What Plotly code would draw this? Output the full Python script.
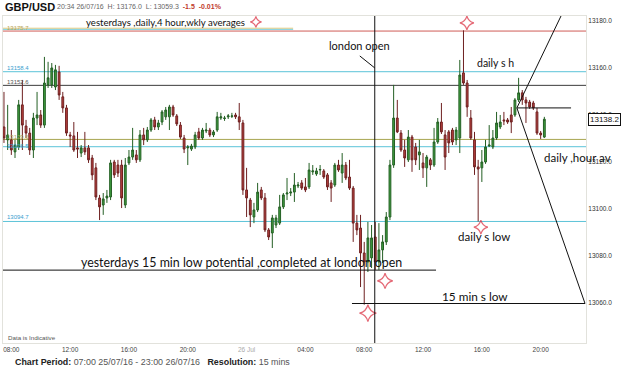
import plotly.graph_objects as go
import pandas as pd

# ---------------- data (15-min GBP/USD candles, price in pips*10) ----------------
start_time = "2016-07-25 07:30"
opens = [13134.9, 13129.4, 13129.4, 13124.3, 13126.4, 13144.3, 13135.3, 13132.3, 13125.1, 13138.7,
         13140.0, 13135.7, 13152.8, 13152.8, 13151.9, 13158.3, 13147.7, 13143.0, 13131.5, 13131.1,
         13126.0, 13123.8, 13126.0, 13126.0, 13121.7, 13117.5, 13104.7, 13101.7, 13104.7, 13105.1,
         13120.0, 13118.7, 13118.7, 13101.7, 13119.6, 13122.1, 13123.0, 13120.9, 13131.5, 13129.4,
         13133.6, 13137.9, 13134.9, 13137.0, 13139.2, 13139.2, 13143.4, 13139.6, 13135.7, 13130.2,
         13126.0, 13125.5, 13126.4, 13132.8, 13130.2, 13133.2, 13133.6, 13131.5, 13133.6, 13138.7,
         13138.5, 13139.2, 13139.4, 13140.0, 13139.2, 13136.6, 13108.1, 13103.8, 13096.6, 13099.6,
         13108.1, 13104.7, 13091.1, 13089.8, 13093.2, 13094.0, 13100.9, 13106.4, 13106.8, 13107.2,
         13109.8, 13111.1, 13109.4, 13109.4, 13115.8, 13114.9, 13116.6, 13116.2, 13114.5, 13111.1,
         13110.2, 13118.7, 13115.3, 13118.7, 13113.6, 13108.9, 13094.0, 13091.9, 13081.3, 13077.5,
         13079.2, 13088.1, 13077.5, 13082.6, 13086.0, 13096.6, 13118.7, 13138.7, 13132.3, 13125.1,
         13120.9, 13130.6, 13126.4, 13123.0, 13119.6, 13117.5, 13120.9, 13118.7, 13128.5, 13137.0,
         13131.5, 13132.8, 13133.6, 13129.4, 13130.2, 13157.9, 13153.6, 13138.7, 13129.4, 13117.9,
         13117.5, 13120.0, 13126.8, 13126.4, 13130.2, 13134.9, 13137.9, 13137.9, 13140.0, 13140.0,
         13146.4, 13149.4, 13146.4, 13145.5, 13145.1, 13141.3, 13132.3, 13130.6]
highs = [13149.8, 13144.3, 13133.6, 13129.4, 13146.4, 13154.9, 13137.9, 13134.5, 13140.9, 13149.8,
         13142.1, 13164.7, 13162.6, 13162.1, 13161.3, 13160.9, 13149.8, 13144.3, 13132.8, 13137.0,
         13132.8, 13127.2, 13132.8, 13127.2, 13123.0, 13119.6, 13106.0, 13106.8, 13108.1, 13120.9,
         13120.9, 13120.9, 13120.9, 13121.7, 13125.1, 13134.5, 13125.1, 13133.6, 13134.5, 13134.9,
         13138.7, 13139.2, 13137.9, 13142.1, 13143.4, 13144.3, 13144.3, 13140.4, 13137.0, 13131.5,
         13127.2, 13127.7, 13132.8, 13134.5, 13134.5, 13136.6, 13134.5, 13133.6, 13141.3, 13140.9,
         13139.6, 13140.4, 13140.9, 13140.9, 13145.1, 13137.9, 13117.5, 13104.7, 13102.6, 13111.1,
         13109.4, 13106.8, 13091.9, 13097.5, 13097.5, 13106.0, 13106.8, 13113.2, 13108.9, 13115.3,
         13111.5, 13112.3, 13113.2, 13119.6, 13118.7, 13117.5, 13118.7, 13117.0, 13115.3, 13112.3,
         13119.6, 13120.9, 13123.8, 13120.0, 13120.9, 13109.8, 13097.5, 13097.5, 13086.0, 13094.5,
         13093.2, 13094.5, 13094.0, 13088.9, 13098.7, 13120.9, 13152.8, 13146.4, 13133.6, 13129.4,
         13133.6, 13131.5, 13128.1, 13129.4, 13123.8, 13123.0, 13121.7, 13134.5, 13138.7, 13145.1,
         13133.6, 13133.6, 13134.5, 13134.9, 13163.4, 13176.0, 13154.9, 13142.1, 13132.8, 13120.9,
         13125.1, 13129.4, 13135.7, 13133.6, 13141.3, 13140.0, 13141.3, 13138.7, 13143.4, 13147.2,
         13155.8, 13150.6, 13147.7, 13146.4, 13146.0, 13143.0, 13133.2, 13139.2]
lows = [13128.1, 13125.1, 13123.0, 13121.7, 13125.1, 13125.1, 13130.2, 13123.0, 13121.7, 13135.7,
        13134.5, 13134.5, 13151.5, 13151.5, 13150.6, 13146.4, 13140.9, 13131.1, 13126.4, 13124.3,
        13121.7, 13122.1, 13123.0, 13119.6, 13112.3, 13103.8, 13095.3, 13097.5, 13102.6, 13103.8,
        13113.2, 13113.6, 13100.4, 13100.4, 13118.7, 13120.9, 13119.6, 13120.0, 13127.2, 13128.5,
        13132.8, 13133.6, 13133.6, 13135.7, 13137.9, 13133.6, 13139.2, 13135.3, 13129.8, 13123.8,
        13118.7, 13124.7, 13125.5, 13129.4, 13129.4, 13132.3, 13130.6, 13130.6, 13132.8, 13137.9,
        13137.5, 13138.3, 13138.7, 13138.3, 13133.6, 13106.0, 13096.6, 13092.3, 13094.0, 13098.7,
        13103.8, 13090.2, 13086.8, 13083.4, 13091.9, 13093.2, 13100.0, 13103.8, 13105.5, 13103.0,
        13108.9, 13108.1, 13107.2, 13108.5, 13114.5, 13114.1, 13114.5, 13112.8, 13108.1, 13103.0,
        13109.4, 13115.8, 13111.1, 13112.3, 13108.1, 13086.0, 13088.9, 13066.8, 13059.3, 13073.2,
        13074.9, 13074.1, 13074.1, 13077.0, 13084.7, 13095.3, 13117.5, 13132.3, 13124.3, 13117.9,
        13120.0, 13115.8, 13118.7, 13116.6, 13113.2, 13109.4, 13116.6, 13117.9, 13127.7, 13131.9,
        13116.6, 13123.8, 13127.2, 13127.2, 13123.8, 13152.8, 13139.2, 13129.4, 13114.5, 13094.7,
        13111.5, 13119.2, 13126.4, 13125.5, 13129.4, 13134.0, 13135.7, 13136.2, 13132.3, 13139.2,
        13145.5, 13144.3, 13136.6, 13142.6, 13142.1, 13131.5, 13129.8, 13130.2]
closes = [13130.2, 13131.5, 13125.1, 13127.2, 13144.3, 13135.7, 13132.3, 13125.1, 13138.7, 13140.0,
          13135.7, 13153.6, 13155.8, 13160.0, 13159.2, 13148.5, 13143.0, 13132.3, 13131.1, 13125.1,
          13125.5, 13126.0, 13124.3, 13120.9, 13114.5, 13105.1, 13100.9, 13104.3, 13105.5, 13119.6,
          13114.5, 13115.3, 13104.7, 13118.7, 13122.1, 13125.1, 13120.9, 13131.5, 13129.4, 13133.6,
          13137.9, 13134.9, 13136.6, 13141.3, 13142.1, 13143.4, 13140.0, 13136.2, 13130.6, 13125.5,
          13126.4, 13126.8, 13131.5, 13130.2, 13133.6, 13133.6, 13131.5, 13132.8, 13139.2, 13139.2,
          13138.7, 13139.6, 13139.6, 13139.2, 13137.0, 13108.1, 13104.7, 13097.5, 13099.6, 13107.2,
          13104.7, 13091.1, 13088.1, 13096.2, 13096.2, 13100.9, 13106.0, 13106.8, 13107.2, 13110.2,
          13110.2, 13108.9, 13108.1, 13116.6, 13116.2, 13116.2, 13116.8, 13113.6, 13109.4, 13108.9,
          13118.7, 13116.6, 13118.7, 13113.2, 13108.9, 13094.0, 13091.1, 13081.3, 13077.5, 13087.7,
          13087.7, 13077.5, 13082.6, 13086.0, 13096.6, 13118.7, 13138.7, 13132.8, 13125.1, 13121.7,
          13130.6, 13120.9, 13120.9, 13124.3, 13117.5, 13122.1, 13118.7, 13128.5, 13137.0, 13132.8,
          13122.1, 13128.1, 13128.5, 13133.6, 13157.0, 13153.6, 13143.4, 13130.2, 13117.9, 13117.0,
          13120.0, 13126.4, 13127.2, 13130.2, 13136.6, 13137.0, 13137.5, 13137.0, 13137.0, 13146.4,
          13149.4, 13146.4, 13145.1, 13143.4, 13143.0, 13132.3, 13131.5, 13138.2]

# horizontal average / level lines (full width)
level_values = [13175.7, 13158.4, 13152.6, 13129.6, 13126.5, 13094.7]
level_colors = ["#cf5b57", "#5bc3d8", "#3a3a3a", "#a8a550", "#5bc3d8", "#5bc3d8"]
level_label_colors = ["#b9a55a", "#3aa0cf", "#555555", "#a8a550", "#3aa0cf", "#3aa0cf"]

# short "legend" lines under the averages caption
short_level_values = [13176.9, 13176.4]
short_level_colors = ["#e0c87a", "#7fd0e0"]
short_level_end = "2016-07-26 03:10"

# y axis / x axis ticks
y_ticks = [13060, 13080, 13100, 13120, 13140, 13160, 13180]
x_tick_times = ["2016-07-25 08:00", "2016-07-25 12:00", "2016-07-25 16:00", "2016-07-25 20:00",
                "2016-07-26 00:00", "2016-07-26 04:00", "2016-07-26 08:00", "2016-07-26 12:00",
                "2016-07-26 16:00", "2016-07-26 20:00"]
x_tick_text = ["08:00", "12:00", "16:00", "20:00", "<span style='color:#aaaaaa'>26 Jul</span>",
               "04:00", "08:00", "12:00", "16:00", "20:00"]

# red star markers (hand annotations)
star_times = ["2016-07-26 00:38", "2016-07-26 14:59", "2016-07-26 15:56", "2016-07-26 09:25", "2016-07-26 08:15"]
star_prices = [13179.6, 13179.2, 13092.3, 13069.4, 13055.7]
star_sizes = [8, 10, 10, 11, 12]

# hand-drawn lines: (t0, p0, t1, p1)
drawn_lines = [
    ("2016-07-26 08:43", 13190.0, "2016-07-26 08:43", 13040.0),   # london open vertical
    ("2016-07-26 07:42", 13165.1, "2016-07-26 08:43", 13160.0),   # pointer from caption
    ("2016-07-25 07:00", 13074.0, "2016-07-26 12:53", 13074.0),   # yesterdays 15 min low
    ("2016-07-26 07:10", 13059.8, "2016-07-26 23:01", 13059.8),   # 15 min s low
    ("2016-07-26 18:23", 13143.0, "2016-07-26 22:04", 13143.0),   # daily hour av
    ("2016-07-26 18:23", 13143.0, "2016-07-26 21:23", 13182.1),   # diagonal up
    ("2016-07-26 18:23", 13143.0, "2016-07-26 23:01", 13059.8),   # diagonal down
]

# ---------------- figure ----------------
times = pd.date_range(start_time, periods=len(opens), freq="15min")

W, H = 625, 370
L, R, T, B = 3, 586, 16, 343

fig = go.Figure()
fig.add_trace(go.Candlestick(
    x=times, open=opens, high=highs, low=lows, close=closes,
    increasing=dict(line=dict(color="#245f24", width=1), fillcolor="#3f9f3f"),
    decreasing=dict(line=dict(color="#6e2020", width=1), fillcolor="#b9403e"),
    whiskerwidth=0, hoverinfo="skip", showlegend=False,
))

fig.add_trace(go.Scatter(
    x=star_times, y=star_prices, mode="markers",
    marker=dict(symbol="star-diamond-open", size=star_sizes, color="#d8283a",
                line=dict(width=1.2, color="#d8283a")),
    hoverinfo="skip", showlegend=False, cliponaxis=False,
))

shapes = []
for v, c in zip(level_values, level_colors):
    shapes.append(dict(type="line", xref="paper", x0=0, x1=1, yref="y", y0=v, y1=v,
                       line=dict(color=c, width=1), layer="below"))
for v, c in zip(short_level_values, short_level_colors):
    shapes.append(dict(type="line", xref="x", x0="2016-07-25 07:00", x1=short_level_end, yref="y", y0=v, y1=v,
                       line=dict(color=c, width=1), layer="below"))
for t0, p0, t1, p1 in drawn_lines:
    shapes.append(dict(type="line", xref="x", yref="y", x0=t0, y0=p0, x1=t1, y1=p1,
                       line=dict(color="#111111", width=1)))


def px(x):
    return (x - L) / (R - L)


def py(y):
    return (B - y) / (B - T)


ann = []


def text(x, y, s, size=10, color="#111", family="Liberation Sans, Arial", xanchor="left", **kw):
    ann.append(dict(xref="paper", yref="paper", x=px(x), y=py(y), text=s, showarrow=False,
                    xanchor=xanchor, yanchor="middle", font=dict(size=size, color=color, family=family), **kw))


# level labels
label_pix = [28, 68, 82, 137, 146, 217]
for v, c, yy in zip(level_values, level_label_colors, label_pix):
    text(5, yy, f"{v:.1f}", size=6, color=c)

# header
text(3, 7, "<b>GBP/USD</b>", size=11, color="#111", family="Liberation Sans, Arial")
text(55, 7, "20:34 26/07/16&nbsp;&nbsp;H: 13176.0&nbsp;&nbsp;L: 13059.3&nbsp;&nbsp;"
            "<span style='color:#c0392b'><b>-1.5&nbsp;&nbsp;-0.01%</b></span>",
     size=7, color="#666")
# footer
text(13, 362, "<b>Chart Period:</b> <span style='color:#555'>07:00 25/07/16 - 23:00 26/07/16</span>"
              "&nbsp;&nbsp;&nbsp;<b>Resolution:</b> <span style='color:#555'>15 mins</span>",
     size=8.9, color="#222")
text(6, 337, "Data is Indicative", size=6.2, color="#555")

# hand-written captions
cap_font = "Lato, Open Sans, sans-serif"
text(84, 22, "yesterdays ,daily,4 hour,wkly averages", size=9.6, family=cap_font)
text(327, 45, "london open", size=11, family=cap_font)
text(475, 63, "daily s h", size=10.5, family=cap_font)
text(542, 157, "daily ,hour av", size=11.5, family=cap_font)
text(456, 236, "daily s low", size=11.5, family=cap_font)
text(79, 262, "yesterdays 15 min low potential ,completed at london open", size=12.4, family=cap_font)
text(440, 296, "15 min s low", size=11.8, family=cap_font)

# last price box
ann.append(dict(xref="paper", yref="y", x=px(588), y=closes[-1], text="13138.2", showarrow=False,
                xanchor="left", yanchor="middle", bgcolor="white", bordercolor="#111", borderwidth=1,
                borderpad=1, font=dict(size=8, color="#111", family="Liberation Sans, Arial")))

fig.update_layout(
    width=W, height=H,
    margin=dict(l=L, r=W - R, t=T, b=H - B),
    paper_bgcolor="white", plot_bgcolor="white",
    shapes=shapes, annotations=ann, showlegend=False,
    xaxis=dict(type="date", range=["2016-07-25 07:26", "2016-07-26 23:05"],
               rangeslider=dict(visible=False), showgrid=False, zeroline=False,
               tickvals=x_tick_times, ticktext=x_tick_text, ticks="",
               tickfont=dict(size=6.5, color="#444", family="Liberation Sans, Arial"),
               showline=True, linecolor="#e2e2dc", mirror=True),
    yaxis=dict(side="right", range=[13043.0, 13182.1], showgrid=False, zeroline=False,
               tickvals=y_ticks, tickformat=".1f", ticks="",
               tickfont=dict(size=6.5, color="#333", family="Liberation Sans, Arial"),
               showline=True, linecolor="#e2e2dc", mirror=True),
)

fig.write_html("out.html")
